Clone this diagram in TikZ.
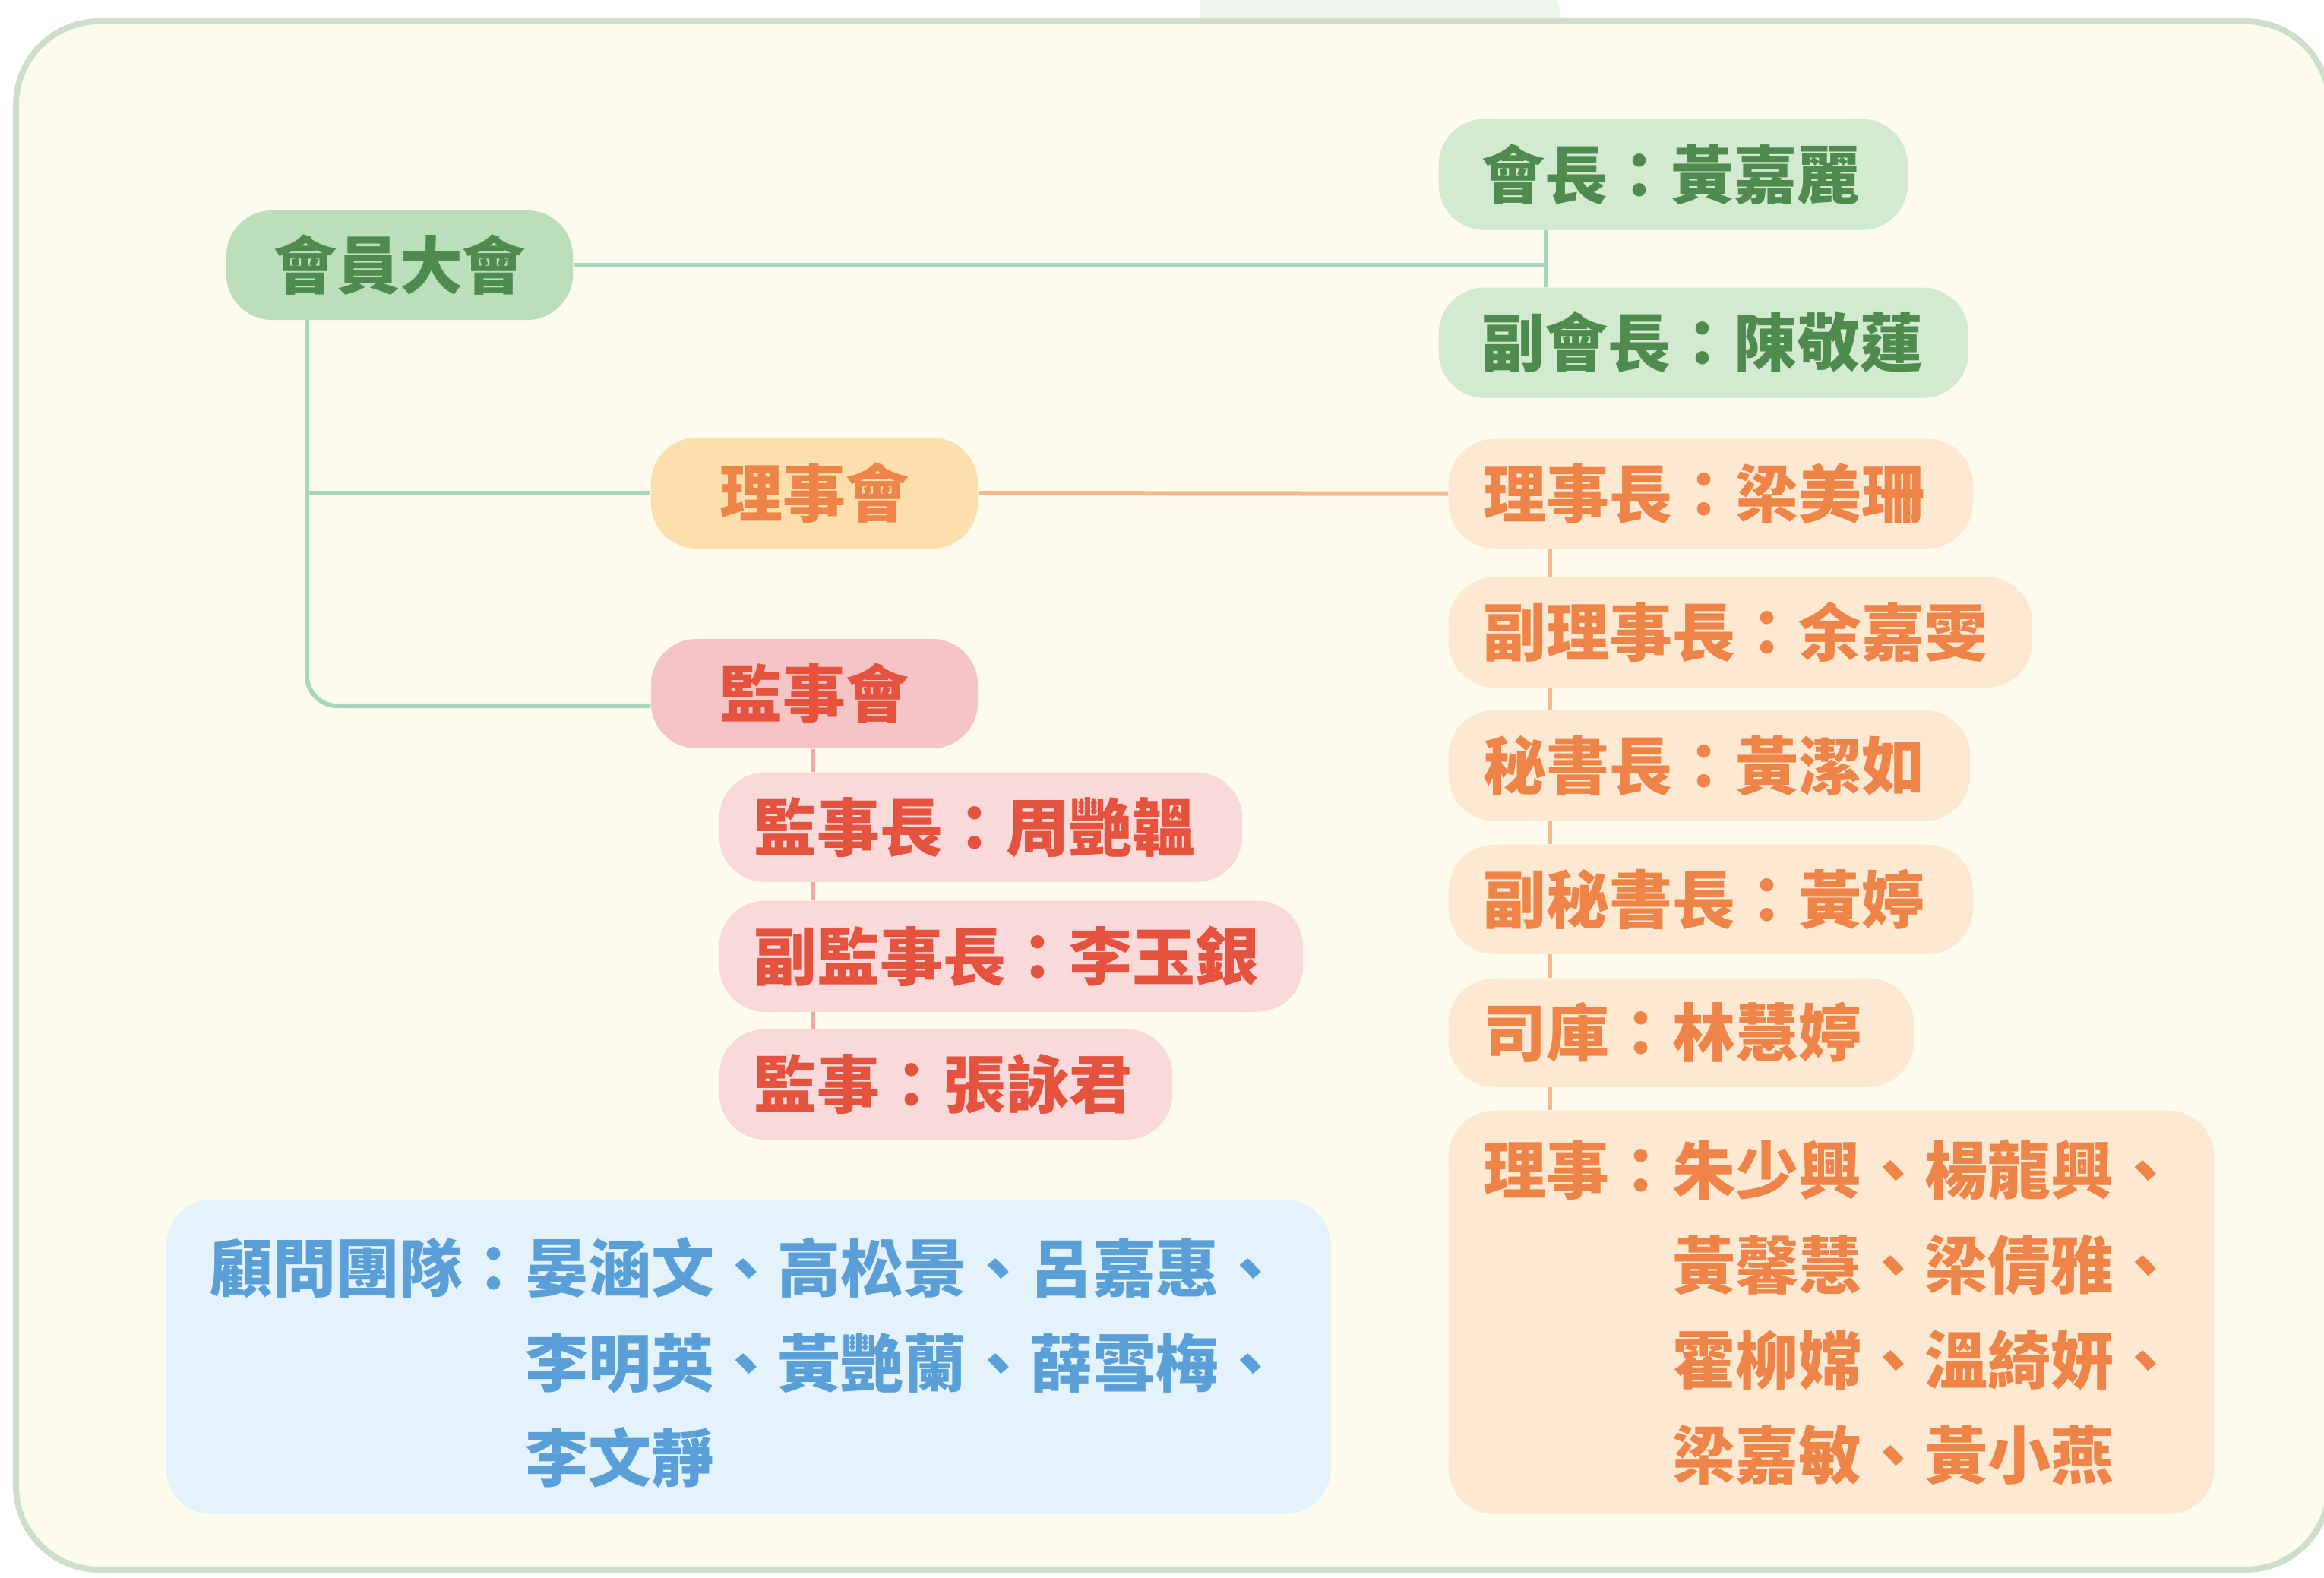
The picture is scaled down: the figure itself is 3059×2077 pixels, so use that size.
\documentclass[tikz,border=0pt]{standalone}
\usepackage{fontspec}
\newfontfamily\cjk{Noto Sans CJK TC}
\definecolor{cream}{HTML}{FDFBED}
\definecolor{framec}{HTML}{CDDFCB}
\definecolor{tabc}{HTML}{EEF5EC}
\definecolor{gmain}{HTML}{BCDFBB}
\definecolor{gsub}{HTML}{D2EAD0}
\definecolor{gtext}{HTML}{4F8A4F}
\definecolor{omain}{HTML}{FDDFAE}
\definecolor{osub}{HTML}{FDE8D2}
\definecolor{otext}{HTML}{EE8447}
\definecolor{rmain}{HTML}{F5C4C4}
\definecolor{rsub}{HTML}{F9D9D9}
\definecolor{rtext}{HTML}{E5533F}
\definecolor{bsub}{HTML}{E4F3FB}
\definecolor{btext}{HTML}{5B9FD8}
\definecolor{gline}{HTML}{A6D6BE}
\definecolor{oline}{HTML}{F4B98F}
\definecolor{rline}{HTML}{F0A9A9}
\begin{document}
\begin{tikzpicture}[x=0.01cm,y=-0.01cm,
  txt/.style={font=\cjk\bfseries\fontsize{23.6pt}{35.6pt}\selectfont},
  mainbox/.style={txt, rounded corners=0.6cm, anchor=center, align=center, inner sep=0pt},
  subbox/.style={txt, rounded corners=0.6cm, anchor=north west, align=left, inner ysep=0pt, inner xsep=#1},
  gconn/.style={draw=gline, line width=0.06cm},
  oconn/.style={draw=oline, line width=0.06cm},
  rconn/.style={draw=rline, line width=0.06cm}]
\useasboundingbox (0,0) rectangle (3059,2077);
\fill[white] (0,0) rectangle (3059,2077);
\fill[tabc] (1580,0) -- (2050,0) -- (2057,30) -- (1580,30) -- cycle;
\filldraw[fill=cream, draw=framec, line width=0.08cm, rounded corners=1.1cm] (21,28) rectangle (3066,2066);

% main nodes
\node[mainbox, fill=gmain, text=gtext, minimum width=4.56cm, minimum height=1.44cm] (G0) at (526,349) {會員大會};
\node[mainbox, fill=omain, text=otext, minimum width=4.30cm, minimum height=1.46cm] (O0) at (1072,649) {理事會};
\node[mainbox, fill=rmain, text=rtext, minimum width=4.30cm, minimum height=1.44cm] (R0) at (1072,913) {監事會};

% green persons
\node[subbox=0.57cm, fill=gsub, text=gtext, text width=5.03cm, minimum height=1.46cm] (G1) at (1893,156) {會長：黃嘉麗};
\node[subbox=0.57cm, fill=gsub, text=gtext, text width=5.83cm, minimum height=1.45cm] (G2) at (1893,378) {副會長：陳敬蓮};

% orange persons
\node[subbox=0.46cm, fill=osub, text=otext, text width=5.98cm, minimum height=1.44cm] (O1) at (1906,577) {理事長：梁美珊};
\node[subbox=0.46cm, fill=osub, text=otext, text width=6.76cm, minimum height=1.45cm] (O2) at (1906,759) {副理事長：余嘉雯};
\node[subbox=0.46cm, fill=osub, text=otext, text width=5.94cm, minimum height=1.46cm] (O3) at (1906,934) {秘書長：黃潔如};
\node[subbox=0.46cm, fill=osub, text=otext, text width=5.98cm, minimum height=1.44cm] (O4) at (1906,1111) {副秘書長：黃婷};
\node[subbox=0.46cm, fill=osub, text=otext, text width=5.20cm, minimum height=1.43cm] (O5) at (1906,1287) {司庫：林慧婷};
\node[subbox=0.46cm, fill=osub, text=otext, text width=9.15cm, minimum height=5.31cm] (O6) at (1906,1461)
  {理事：朱少興、楊龍興、\\\hspace*{3em}黃馨慧、梁倩雅、\\\hspace*{3em}霍柳嫦、溫綺妍、\\\hspace*{3em}梁嘉敏、黃小燕};

% red persons
\node[subbox=0.46cm, fill=rsub, text=rtext, text width=5.96cm, minimum height=1.44cm] (R1) at (946,1016) {監事長：周艷韞};
\node[subbox=0.46cm, fill=rsub, text=rtext, text width=6.76cm, minimum height=1.46cm] (R2) at (946,1185) {副監事長：李玉銀};
\node[subbox=0.46cm, fill=rsub, text=rtext, text width=5.04cm, minimum height=1.45cm] (R3) at (946,1354) {監事：張詠君};

% advisors
\node[subbox=0.58cm, fill=bsub, text=btext, text width=14.16cm, minimum height=4.14cm] (B) at (218,1578)
  {\rule{0pt}{1.05em}顧問團隊：晏涵文、高松景、呂嘉惠、\\\hspace*{5em}李明英、黃艷蘭、薛雪梅、\\\hspace*{5em}李文靜};

% connectors
\coordinate (gj) at (2035,349);
\coordinate (trunk) at (404,421);
\coordinate (oj) at (2040,0);
\coordinate (rj) at (1070,0);
\draw[gconn] (G0.east) -- (gj);
\draw[gconn] (G1.south -| gj) -- (G2.north -| gj);
\draw[gconn, rounded corners=0.4cm] (trunk) |- ([yshift=-0.16cm]R0.west);
\draw[gconn] (trunk |- O0.west) -- (O0.west);
\draw[oconn] (O0.east) -- (O1.west);
\draw[oconn] (O1.south -| oj) -- (O2.north -| oj);
\draw[oconn] (O2.south -| oj) -- (O3.north -| oj);
\draw[oconn] (O3.south -| oj) -- (O4.north -| oj);
\draw[oconn] (O4.south -| oj) -- (O5.north -| oj);
\draw[oconn] (O5.south -| oj) -- (O6.north -| oj);
\draw[rconn] (R0.south -| rj) -- (R1.north -| rj);
\draw[rconn] (R1.south -| rj) -- (R2.north -| rj);
\draw[rconn] (R2.south -| rj) -- (R3.north -| rj);
\end{tikzpicture}
\end{document}
